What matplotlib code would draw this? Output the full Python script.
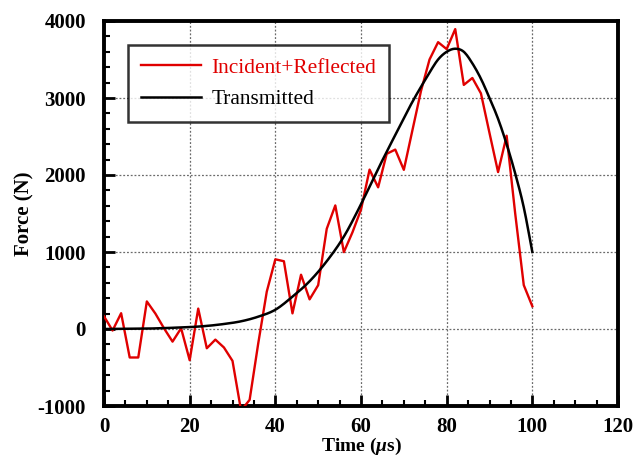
import matplotlib
matplotlib.use("Agg")
import matplotlib.pyplot as plt
from matplotlib.ticker import MultipleLocator
import numpy as np

plt.rcParams['font.family'] = ['Liberation Serif', 'DejaVu Serif']
plt.rcParams['mathtext.fontset'] = 'custom'
plt.rcParams['mathtext.rm'] = 'Liberation Serif:bold'
plt.rcParams['mathtext.it'] = 'Liberation Serif:italic:bold'
plt.rcParams['axes.unicode_minus'] = False

# Incident+Reflected (red), sampled every 2 us
t_red = list(range(0, 101, 2))
f_red = [165, -20, 205, -370, -370, 358, 200, 10, -164, 10, -405, 265, -250, -138, -240,
         -414, -1060, -920, -190, 485, 905, 880, 203, 705, 385, 569, 1301, 1605, 998, 1255,
         1550, 2070, 1840, 2275, 2330, 2067, 2580, 3090, 3500, 3725, 3635, 3895, 3170, 3260,
         3060, 2545, 2038, 2510, 1500, 570, 295]

# Transmitted (black) smooth curve
t_blk = [0, 10, 20, 24, 28, 32, 36, 40, 44, 48, 52, 56, 60, 64, 68, 72, 76, 78, 80, 82,
         84, 86, 88, 90, 92, 94, 96, 98, 100]
f_blk = [0, 5, 25, 40, 65, 100, 160, 250, 420, 620, 880, 1200, 1620, 2080, 2520, 2950,
         3330, 3500, 3600, 3640, 3600, 3450, 3250, 3000, 2730, 2400, 2020, 1580, 1000]

fig = plt.figure(figsize=(6.33, 4.62), dpi=100)
ax = fig.add_axes([104/633, 1-406/462, (618-104)/633, (406-21)/462])

tb = np.array(t_blk, float); fb = np.array(f_blk, float)
ts = np.linspace(0, 100, 400)

def cr_spline(x, y, xs):
    out = np.empty_like(xs)
    n = len(x)
    m = np.zeros(n)
    for i in range(n):
        if i == 0:
            m[i] = (y[1]-y[0])/(x[1]-x[0])
        elif i == n-1:
            m[i] = (y[-1]-y[-2])/(x[-1]-x[-2])
        else:
            m[i] = (y[i+1]-y[i-1])/(x[i+1]-x[i-1])
    for k, xv in enumerate(xs):
        i = min(np.searchsorted(x, xv, side='right')-1, n-2)
        h = x[i+1]-x[i]
        s = (xv-x[i])/h
        h00 = 2*s**3-3*s**2+1; h10 = s**3-2*s**2+s
        h01 = -2*s**3+3*s**2; h11 = s**3-s**2
        out[k] = h00*y[i]+h10*h*m[i]+h01*y[i+1]+h11*h*m[i+1]
    return out

ax.plot(t_red, f_red, color='#e00000', lw=1.7, label='Incident+Reflected', zorder=3)
ax.plot(ts, cr_spline(tb, fb, ts), color='black', lw=1.8, label='Transmitted', zorder=4)

ax.set_xlim(0, 120)
ax.set_ylim(-1000, 4000)
ax.xaxis.set_major_locator(MultipleLocator(20))
ax.xaxis.set_minor_locator(MultipleLocator(5))
ax.yaxis.set_major_locator(MultipleLocator(1000))
ax.yaxis.set_minor_locator(MultipleLocator(200))
ax.grid(True, which='major', color='#6a6a6a', linestyle=(0, (1.5, 1.5)), lw=0.9)
ax.tick_params(which='both', direction='in', top=False, right=False)
ax.tick_params(which='major', length=8, width=2)
ax.tick_params(which='minor', length=4, width=1.5)
ax.tick_params(axis='x', pad=8)
ax.tick_params(axis='y', pad=13)
for s in ax.spines.values():
    s.set_linewidth(2.8)
for lab in ax.get_xticklabels() + ax.get_yticklabels():
    lab.set_fontweight('bold')
    lab.set_fontsize(15)

ax.set_xlabel('Time ($\\mathit{\\mu}$s)', fontsize=14, fontweight='bold', labelpad=-1)
ax.set_ylabel('Force (N)', fontsize=15, fontweight='bold', labelpad=2)

leg = ax.legend(loc='upper left', bbox_to_anchor=(0.047, 0.938), borderaxespad=0,
                fontsize=15.4, frameon=True, fancybox=False, edgecolor='black',
                handlelength=2.8, borderpad=0.6, labelspacing=0.55, handletextpad=0.5)
leg.get_frame().set_linewidth(1.8)
leg.get_texts()[0].set_color('#e00000')

fig.savefig('out.png', dpi=100)
